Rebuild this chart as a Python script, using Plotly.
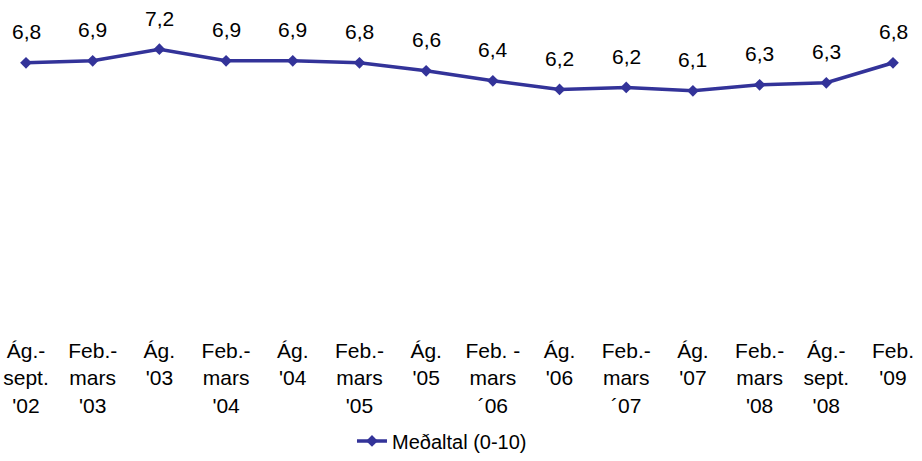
import plotly.graph_objects as go

categories = ["Ág.-<br>sept.<br>'02", "Feb.-<br>mars<br>'03", "Ág.<br>'03", "Feb.-<br>mars<br>'04",
              "Ág.<br>'04", "Feb.-<br>mars<br>'05", "Ág.<br>'05", "Feb. -<br>mars<br>´06",
              "Ág.<br>'06", "Feb.-<br>mars<br>´07", "Ág.<br>'07", "Feb.-<br>mars<br>'08",
              "Ág.-<br>sept.<br>'08", "Feb.<br>'09"]
values = [6.83, 6.88, 7.17, 6.88, 6.88, 6.83, 6.63, 6.38, 6.165, 6.215, 6.13, 6.28, 6.33, 6.83]
series_name = "Meðaltal (0-10)"

COLOR = "#333399"
FONT = "Liberation Sans Narrow, Arial Narrow, Liberation Sans, Arial, sans-serif"

x = list(range(len(values)))
labels = [f"{v:.1f}".replace(".", ",") for v in values]

fig = go.Figure()
fig.add_trace(go.Scatter(
    x=x, y=values, mode="lines+markers", name=series_name,
    line=dict(color=COLOR, width=3.5),
    marker=dict(symbol="diamond", size=9, color=COLOR),
    cliponaxis=False,
))

for xi, v, t in zip(x, values, labels):
    fig.add_annotation(x=xi, y=v, text=t, showarrow=False, yshift=31,
                       font=dict(size=21, color="black", family=FONT))

fig.update_layout(
    width=922, height=461,
    margin=dict(l=26, r=29, t=16, b=125, autoexpand=False),
    paper_bgcolor="white", plot_bgcolor="white",
    font=dict(family=FONT, size=21, color="black"),
    showlegend=True,
    legend=dict(orientation="h", x=0.376, xanchor="left", y=-0.328, yanchor="middle",
                font=dict(size=20)),
    xaxis=dict(range=[0, 13], tickvals=x, ticktext=categories, showgrid=False,
               zeroline=False, showline=False, ticks="", tickangle=0, automargin=False,
               ticklabeloverflow="allow"),
    yaxis=dict(range=[0, 8], visible=False, automargin=False),
)

fig.write_html("out.html", post_script="document.body.style.margin='0';",
               config={"displayModeBar": False})
